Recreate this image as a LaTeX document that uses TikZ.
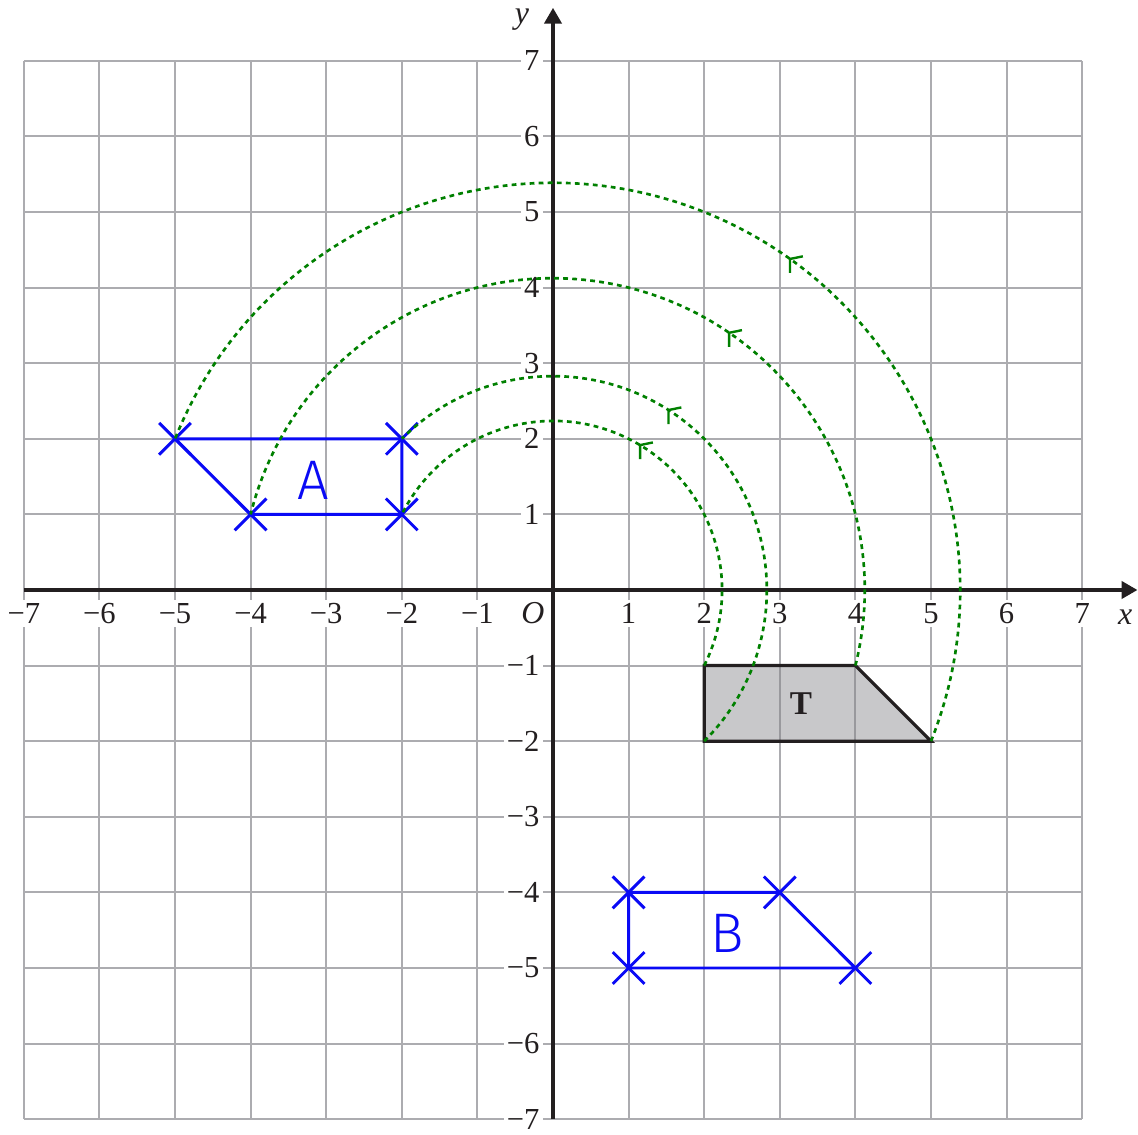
\documentclass[tikz,border=0pt]{standalone}
\usepackage{fontspec}
\setmainfont{Liberation Serif}
\newfontfamily\hand{Fira Sans Light}
\usetikzlibrary{arrows.meta,calc}
\definecolor{gridgray}{RGB}{172,172,176}
\definecolor{axisblack}{RGB}{35,31,32}
\definecolor{tgray}{RGB}{128,128,132}
\definecolor{penblue}{RGB}{10,10,245}
\definecolor{arcgreen}{RGB}{0,128,0}
\begin{document}
\begin{tikzpicture}[
  gridline/.style={draw=gridgray, line width=0.8pt},
  axisline/.style={draw=axisblack, line width=1.2pt, -{Triangle[length=0.21cm,width=0.23cm]}},
  ticklab/.style={fill=white, inner sep=1.2pt, text=axisblack, font=\fontsize{11.5}{12}\selectfont},
  axislab/.style={inner sep=0pt, text=axisblack, font=\fontsize{12}{13}\selectfont\itshape},
  tshape/.style={draw=axisblack, line width=1.2pt, fill=tgray, fill opacity=0.43, line join=miter},
  blueshape/.style={draw=penblue, line width=1.1pt, line join=round},
  bluecross/.style={draw=penblue, line width=1.1pt},
  handlab/.style={text=penblue, inner sep=0pt, font=\fontsize{21}{22}\hand},
  rotarc/.style={draw=arcgreen, line width=1pt, dash pattern=on 1.8pt off 1.6pt},
  rotmark/.style={draw=arcgreen, line width=0.9pt},
]
\useasboundingbox (-7.315,-7.209) rectangle (7.738,7.804);

% grid
\foreach \i in {-7,...,7} {
  \draw[gridline] (\i,-7) -- (\i,7);
  \draw[gridline] (-7,\i) -- (7,\i);
}

% tick labels
\foreach \i/\t in {-7/−7,-6/−6,-5/−5,-4/−4,-3/−3,-2/−2,-1/−1,1/1,2/2,3/3,4/4,5/5,6/6,7/7} {
  \node[ticklab, anchor=north] (xl\i) at (\i,-0.13) {\t};
  \node[ticklab, anchor=east] (yl\i) at (-0.13,\i) {\t};
}
\node[axislab] (orig) at (-0.265,-0.30) {O};
\node[axislab] (xlab) at (7.57,-0.36) {x};
\node[axislab] (ylab) at (-0.41,7.54) {y};

% axes
\coordinate (xs) at (-7,0);
\coordinate (xe) at (7.73,0);
\coordinate (ys) at (0,-7);
\coordinate (ye) at (0,7.70);
\draw[axisline] (xs) -- (xe);
\draw[axisline] (ys) -- (ye);

% shape T
\coordinate (t1) at (2,-1);
\coordinate (t2) at (4,-1);
\coordinate (t3) at (5,-2);
\coordinate (t4) at (2,-2);
\draw[tshape] (t1) -- (t2) -- (t3) -- (t4) -- cycle;
\node[text=axisblack, font=\fontsize{12.5}{13}\selectfont\bfseries] (tlab) at (3.28,-1.50) {T};

% shape A
\coordinate (a1) at (-2,1);
\coordinate (a2) at (-4,1);
\coordinate (a3) at (-5,2);
\coordinate (a4) at (-2,2);
\draw[blueshape] (a1) -- (a2) -- (a3) -- (a4) -- cycle;
\node[handlab] (alab) at (-3.17,1.45) {A};

% shape B
\coordinate (b1) at (1,-4);
\coordinate (b2) at (3,-4);
\coordinate (b3) at (4,-5);
\coordinate (b4) at (1,-5);
\draw[blueshape] (b1) -- (b2) -- (b3) -- (b4) -- cycle;
\node[handlab] (blab) at (2.31,-4.54) {B};

% crosses
\foreach \p in {a1,a2,a3,a4,b1,b2,b3,b4} {
  \draw[bluecross] ($(\p)+(-0.21,-0.21)$) -- ($(\p)+(0.21,0.21)$);
  \draw[bluecross] ($(\p)+(-0.21,0.21)$) -- ($(\p)+(0.21,-0.21)$);
}

% rotation arcs (180 degrees about O)
\draw[rotarc] (t1) arc[start angle=-26.565, end angle=153.435, radius=2.23607];
\draw[rotarc] (t2) arc[start angle=-14.036, end angle=165.964, radius=4.12311];
\draw[rotarc] (t3) arc[start angle=-21.801, end angle=158.199, radius=5.38516];
\draw[rotarc] (t4) arc[start angle=-45, end angle=135, radius=2.82843];

% direction marks
\foreach \n/\ang/\r in {m1/59/2.23607, m2/57.3/2.82843, m3/55.6/4.12311, m4/54.4/5.38516} {
  \coordinate (\n) at (\ang:\r);
  \draw[rotmark] ($(\n)+(0.17,0.035)$) -- (\n) -- ($(\n)+(0,-0.185)$);
}
\end{tikzpicture}
\end{document}
